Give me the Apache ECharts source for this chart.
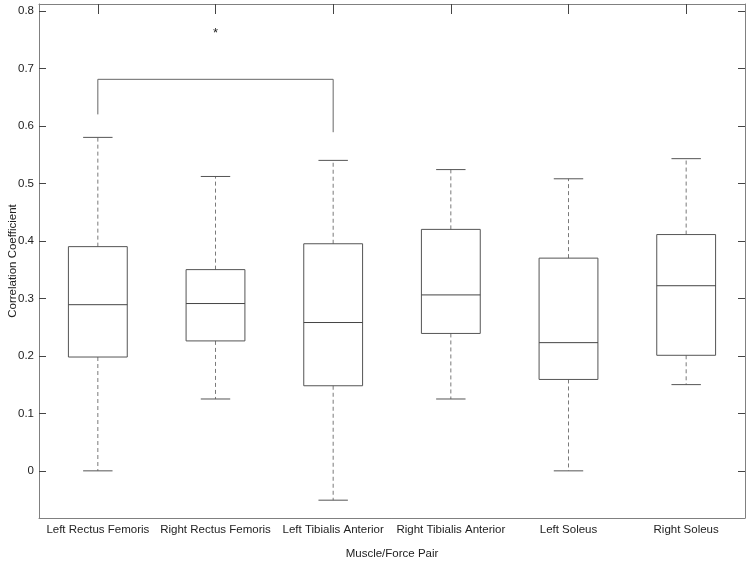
<!DOCTYPE html>
<html>
<head>
<meta charset="utf-8">
<title>Correlation Coefficient</title>
<script src="https://cdn.jsdelivr.net/npm/echarts@6/dist/echarts.min.js"></script>
<style>
    html, body {margin: 0; padding: 0; background: #fff;}
    #main {width: 750px; height: 561px;}
</style>
</head>
<body>
<div id="main"></div>
<script>
// ------------------ data ------------------
const categories = ['Left Rectus Femoris', 'Right Rectus Femoris', 'Left Tibialis Anterior',
    'Right Tibialis Anterior', 'Left Soleus', 'Right Soleus'];
const lowerWhisker = [0.000, 0.125, -0.051, 0.125, 0.000, 0.150];
const q1 = [0.198, 0.226, 0.148, 0.239, 0.159, 0.201];
const median = [0.289, 0.291, 0.258, 0.306, 0.223, 0.322];
const q3 = [0.390, 0.350, 0.395, 0.420, 0.370, 0.411];
const upperWhisker = [0.580, 0.512, 0.540, 0.524, 0.508, 0.543];
const yTicks = [0, 0.1, 0.2, 0.3, 0.4, 0.5, 0.6, 0.7, 0.8];

// significance bracket: from category 0 to category 2, star over category 1
const bracketFrom = 0, bracketTo = 2;
const bracketLevel = 0.681;
const bracketLeftEnd = 0.620;
const bracketRightEnd = 0.589;
const starCategory = 1, starValue = 0.765;

const Y_MIN = -0.082, Y_MAX = 0.812;
const FONT = 'Liberation Sans, Arial, Helvetica, sans-serif';
const AXIS_COLOR = '#808080';
const TICK_COLOR = '#444';
const FONT_SIZE = 11.5;

let boxData = [];
for (let i = 0; i < categories.length; i++) {
    boxData.push([i, lowerWhisker[i], q1[i], median[i], q3[i], upperWhisker[i]]);
}

function renderBox(params, api) {
    let x = api.value(0);
    let pLow = api.coord([x, api.value(1)]);
    let pQ1 = api.coord([x, api.value(2)]);
    let pMed = api.coord([x, api.value(3)]);
    let pQ3 = api.coord([x, api.value(4)]);
    let pHigh = api.coord([x, api.value(5)]);
    let bw = api.size([1, 0])[0] * 0.5;
    let cw = bw * 0.5;
    let cx = pMed[0];
    let solid = {stroke: '#555', lineWidth: 1, fill: null};
    let dashed = {stroke: '#7a7a7a', lineWidth: 1, lineDash: [4, 3]};
    return {
        type: 'group',
        children: [
            {type: 'line', shape: {x1: cx, y1: pQ3[1], x2: cx, y2: pHigh[1]}, style: dashed},
            {type: 'line', shape: {x1: cx, y1: pQ1[1], x2: cx, y2: pLow[1]}, style: dashed},
            {type: 'line', shape: {x1: cx - cw / 2, y1: pHigh[1], x2: cx + cw / 2, y2: pHigh[1]}, style: solid},
            {type: 'line', shape: {x1: cx - cw / 2, y1: pLow[1], x2: cx + cw / 2, y2: pLow[1]}, style: solid},
            {type: 'rect', shape: {x: cx - bw / 2, y: pQ3[1], width: bw, height: pQ1[1] - pQ3[1]}, style: solid},
            {type: 'line', shape: {x1: cx - bw / 2, y1: pMed[1], x2: cx + bw / 2, y2: pMed[1]}, style: {stroke: '#444', lineWidth: 1}}
        ]
    };
}

function renderBracket(params, api) {
    let a = api.coord([bracketFrom, bracketLeftEnd]);
    let b = api.coord([bracketFrom, bracketLevel]);
    let c = api.coord([bracketTo, bracketLevel]);
    let d = api.coord([bracketTo, bracketRightEnd]);
    let s = api.coord([starCategory, starValue]);
    return {
        type: 'group',
        children: [
            {type: 'polyline', shape: {points: [a, b, c, d]}, style: {stroke: '#666', lineWidth: 1, fill: null}},
            // the asterisk glyph sits high in its box, so anchor its top a little above the point
            {type: 'text', x: s[0], y: s[1] - 4, style: {text: '*', fill: '#222', font: '13px ' + FONT, align: 'center', verticalAlign: 'top'}}
        ]
    };
}

let myChart = echarts.init(document.getElementById('main'), null, {renderer: 'canvas'});

let option = {
    backgroundColor: '#fff',
    animation: false,
    grid: {left: 39, right: 5, top: 4, bottom: 43, containLabel: false, outerBoundsMode: 'none'},
    xAxis: [
        {
            type: 'category',
            data: categories,
            position: 'bottom',
            name: 'Muscle/Force Pair',
            nameLocation: 'middle',
            nameGap: 30,
            nameMoveOverlap: false,
            nameTextStyle: {color: '#222', fontSize: FONT_SIZE, fontFamily: FONT},
            axisLine: {onZero: false, lineStyle: {color: AXIS_COLOR, width: 1}},
            axisTick: {inside: true, alignWithLabel: true, length: 10, lineStyle: {color: TICK_COLOR}},
            axisLabel: {color: '#222', fontSize: FONT_SIZE, fontFamily: FONT, margin: 6, interval: 0},
            splitLine: {show: false}
        },
        {
            type: 'category',
            data: categories,
            position: 'top',
            axisLine: {show: true, onZero: false, lineStyle: {color: AXIS_COLOR, width: 1}},
            axisTick: {show: true, inside: true, alignWithLabel: true, interval: 0, length: 10, lineStyle: {color: TICK_COLOR}},
            axisLabel: {show: false, interval: 0},
            splitLine: {show: false}
        }
    ],
    yAxis: [
        {
            type: 'value',
            min: Y_MIN,
            max: Y_MAX,
            position: 'left',
            name: 'Correlation Coefficient',
            nameLocation: 'middle',
            nameGap: 20,
            nameMoveOverlap: false,
            nameTextStyle: {color: '#222', fontSize: FONT_SIZE, fontFamily: FONT},
            axisLine: {show: true, onZero: false, lineStyle: {color: AXIS_COLOR, width: 1}},
            axisTick: {show: true, inside: true, length: 7, customValues: yTicks, lineStyle: {color: TICK_COLOR}},
            axisLabel: {color: '#222', fontSize: FONT_SIZE, fontFamily: FONT, margin: 5, customValues: yTicks},
            splitLine: {show: false}
        },
        {
            type: 'value',
            min: Y_MIN,
            max: Y_MAX,
            position: 'right',
            axisLine: {show: true, onZero: false, lineStyle: {color: AXIS_COLOR, width: 1}},
            axisTick: {show: true, inside: true, length: 7, customValues: yTicks, lineStyle: {color: TICK_COLOR}},
            axisLabel: {show: false},
            splitLine: {show: false}
        }
    ],
    series: [
        {
            name: 'box',
            type: 'custom',
            renderItem: renderBox,
            data: boxData,
            encode: {x: 0, y: [1, 2, 3, 4, 5]},
            xAxisIndex: 0,
            yAxisIndex: 0,
            z: 3
        },
        {
            name: 'bracket',
            type: 'custom',
            renderItem: renderBracket,
            data: [[bracketFrom, bracketLevel]],
            xAxisIndex: 0,
            yAxisIndex: 0,
            silent: true,
            z: 4
        }
    ]
};

myChart.setOption(option, true);
</script>
</body>
</html>
